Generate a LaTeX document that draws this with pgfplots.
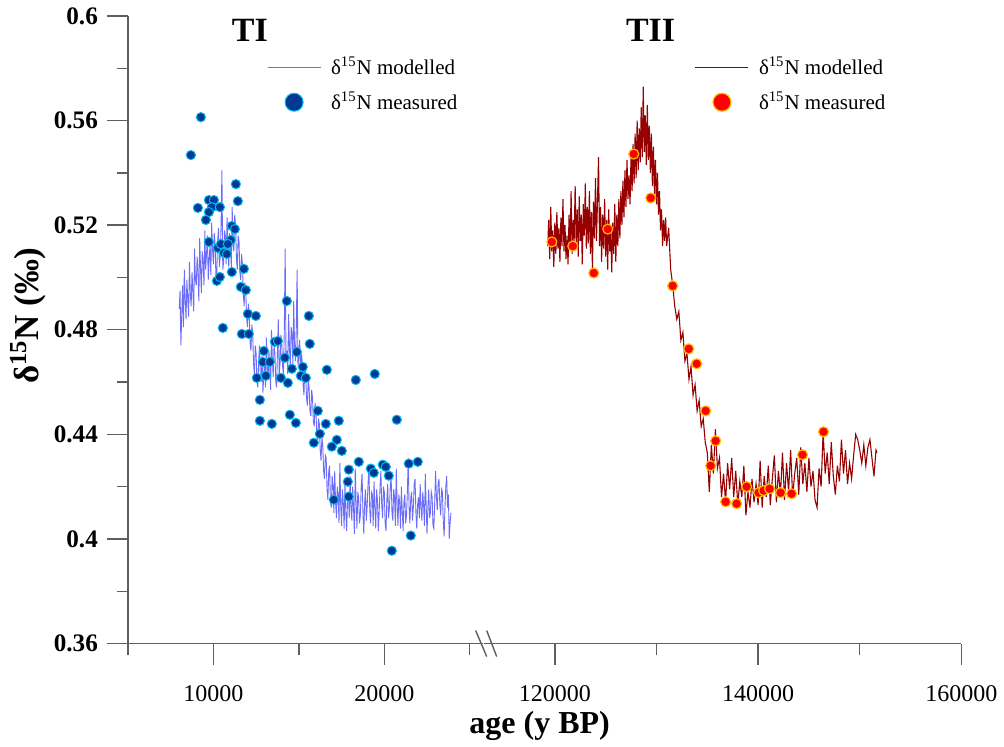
\documentclass[border=0pt]{standalone}
\usepackage{pgfplots}
\pgfplotsset{compat=1.18}
\usepackage{fontspec}
\setmainfont{Liberation Serif}
\definecolor{tiline}{RGB}{108,108,250}
\definecolor{timark}{RGB}{0,56,150}
\definecolor{timarkedge}{RGB}{0,185,235}
\definecolor{tiiline}{RGB}{150,0,0}
\definecolor{tiimark}{RGB}{255,0,0}
\definecolor{tiimarkedge}{RGB}{255,190,0}
\definecolor{axgray}{RGB}{95,95,95}

\pgfplotstableread{
age d
8000 0.488
8050 0.495
8100 0.474
8150 0.486
8200 0.497
8250 0.481
8300 0.503
8350 0.492
8400 0.484
8450 0.499
8500 0.492
8550 0.485
8600 0.506
8650 0.494
8700 0.489
8750 0.502
8800 0.495
8850 0.487
8900 0.511
8950 0.499
9000 0.497
9050 0.508
9100 0.502
9150 0.491
9200 0.515
9250 0.503
9300 0.494
9350 0.510
9400 0.506
9450 0.497
9500 0.518
9550 0.503
9600 0.509
9650 0.516
9700 0.499
9750 0.507
9800 0.512
9850 0.501
9900 0.521
9950 0.511
10000 0.505
10050 0.517
10100 0.513
10150 0.500
10200 0.502
10250 0.514
10300 0.519
10350 0.504
10400 0.508
10450 0.520
10500 0.541
10550 0.503
10600 0.506
10650 0.518
10700 0.516
10750 0.505
10800 0.523
10850 0.512
10900 0.504
10950 0.517
11000 0.512
11050 0.504
11100 0.527
11150 0.513
11200 0.510
11250 0.524
11300 0.520
11350 0.507
11400 0.503
11450 0.516
11500 0.514
11550 0.502
11600 0.499
11650 0.509
11700 0.505
11750 0.494
11800 0.489
11850 0.498
11900 0.494
11950 0.484
12000 0.481
12050 0.490
12100 0.486
12150 0.475
12200 0.472
12250 0.482
12300 0.479
12350 0.467
12400 0.463
12450 0.474
12500 0.471
12550 0.460
12600 0.458
12650 0.468
12700 0.474
12750 0.462
12800 0.460
12850 0.470
12900 0.456
12950 0.463
13000 0.469
13050 0.458
13100 0.477
13150 0.466
13200 0.461
13250 0.472
13300 0.466
13350 0.457
13400 0.480
13450 0.469
13500 0.462
13550 0.474
13600 0.471
13650 0.460
13700 0.458
13750 0.472
13800 0.484
13850 0.463
13900 0.467
13950 0.478
14000 0.475
14050 0.466
14100 0.463
14150 0.480
14200 0.511
14250 0.468
14300 0.472
14350 0.463
14400 0.486
14450 0.474
14500 0.465
14550 0.481
14600 0.479
14650 0.467
14700 0.491
14750 0.474
14800 0.468
14850 0.480
14900 0.503
14950 0.466
15000 0.470
15050 0.476
15100 0.462
15150 0.471
15200 0.468
15250 0.459
15300 0.455
15350 0.466
15400 0.463
15450 0.454
15500 0.451
15550 0.461
15600 0.458
15650 0.449
15700 0.447
15750 0.457
15800 0.454
15850 0.445
15900 0.443
15950 0.452
16000 0.449
16050 0.440
16100 0.437
16150 0.446
16200 0.444
16250 0.434
16300 0.430
16350 0.439
16400 0.436
16450 0.426
16500 0.423
16550 0.432
16600 0.431
16650 0.419
16700 0.415
16750 0.426
16800 0.428
16850 0.414
16900 0.412
16950 0.424
17000 0.421
17050 0.410
17100 0.426
17150 0.414
17200 0.408
17250 0.420
17300 0.417
17350 0.406
17400 0.429
17450 0.413
17500 0.405
17550 0.419
17600 0.414
17650 0.404
17700 0.421
17750 0.410
17800 0.403
17850 0.415
17900 0.418
17950 0.408
18000 0.424
18050 0.412
18100 0.407
18150 0.420
18200 0.412
18250 0.402
18300 0.427
18350 0.414
18400 0.404
18450 0.418
18500 0.416
18550 0.406
18600 0.409
18650 0.420
18700 0.425
18750 0.410
18800 0.402
18850 0.414
18900 0.419
18950 0.407
19000 0.413
19050 0.421
19100 0.428
19150 0.411
19200 0.406
19250 0.418
19300 0.417
19350 0.405
19400 0.422
19450 0.412
19500 0.404
19550 0.419
19600 0.415
19650 0.403
19700 0.410
19750 0.420
19800 0.426
19850 0.413
19900 0.408
19950 0.420
20000 0.418
20050 0.406
20100 0.403
20150 0.415
20200 0.421
20250 0.408
20300 0.412
20350 0.420
20400 0.424
20450 0.410
20500 0.407
20550 0.419
20600 0.416
20650 0.405
20700 0.427
20750 0.414
20800 0.405
20850 0.417
20900 0.414
20950 0.404
21000 0.420
21050 0.411
21100 0.403
21150 0.414
21200 0.417
21250 0.406
21300 0.409
21350 0.418
21400 0.431
21450 0.412
21500 0.406
21550 0.416
21600 0.418
21650 0.407
21700 0.412
21750 0.421
21800 0.423
21850 0.410
21900 0.404
21950 0.413
22000 0.416
22050 0.408
22100 0.421
22150 0.412
22200 0.407
22250 0.418
22300 0.413
22350 0.405
22400 0.425
22450 0.413
22500 0.402
22550 0.412
22600 0.419
22650 0.408
22700 0.410
22750 0.418
22800 0.416
22850 0.405
22900 0.404
22950 0.414
23000 0.426
23050 0.416
23100 0.411
23150 0.421
23200 0.423
23250 0.413
23300 0.409
23350 0.419
23400 0.418
23450 0.407
23500 0.401
23550 0.412
23600 0.420
23650 0.424
23700 0.412
23750 0.417
23800 0.400
23850 0.406
23900 0.410
}\timod

\pgfplotstableread{
age d
9269 0.5613
8684 0.5468
9094 0.5266
9737 0.5296
10029 0.5296
9912 0.5269
9737 0.5250
9561 0.5220
10380 0.5269
11316 0.5357
11433 0.5292
9737 0.5136
10263 0.5113
10439 0.5128
11082 0.5197
11257 0.5185
11023 0.5143
10848 0.5128
10614 0.5094
10790 0.5090
11082 0.5021
11784 0.5033
10205 0.4987
10380 0.5002
11608 0.4964
11901 0.4952
10556 0.4807
12018 0.4861
12485 0.4853
11667 0.4784
12076 0.4784
14298 0.4910
15585 0.4853
15643 0.4746
12953 0.4719
13597 0.4754
13772 0.4757
12895 0.4677
13304 0.4677
14181 0.4693
14883 0.4715
14591 0.4651
15234 0.4658
16638 0.4647
19445 0.4631
18333 0.4608
12544 0.4616
13070 0.4624
13947 0.4616
14357 0.4597
15117 0.4624
15409 0.4616
12719 0.4532
12719 0.4452
13421 0.4440
14474 0.4475
14825 0.4444
16111 0.4490
16579 0.4440
16228 0.4402
15877 0.4368
17339 0.4452
20731 0.4456
17222 0.4379
16930 0.4353
17515 0.4337
18509 0.4295
17924 0.4265
17866 0.4219
17924 0.4162
17047 0.4150
19211 0.4269
19386 0.4253
19912 0.4284
20088 0.4276
20263 0.4242
21433 0.4288
21959 0.4295
21550 0.4013
20439 0.3955
}\timeas

\pgfplotstableread{
age d
119300 0.512
119400 0.522
119500 0.507
119600 0.527
119700 0.510
119800 0.518
119900 0.504
120000 0.521
120100 0.509
120200 0.525
120300 0.511
120400 0.519
120500 0.506
120600 0.523
120700 0.512
120800 0.530
120900 0.510
121000 0.520
121100 0.507
121200 0.516
121300 0.505
121400 0.524
121500 0.511
121600 0.533
121700 0.509
121800 0.522
121900 0.514
122000 0.535
122100 0.512
122200 0.526
122300 0.508
122400 0.531
122500 0.514
122600 0.524
122700 0.505
122800 0.528
122900 0.516
123000 0.536
123100 0.511
123200 0.527
123300 0.513
123400 0.533
123500 0.509
123600 0.525
123700 0.503
123800 0.529
123900 0.515
124000 0.538
124100 0.514
124200 0.530
124300 0.546
124400 0.512
124500 0.527
124600 0.506
124700 0.524
124800 0.511
124900 0.530
125000 0.508
125100 0.522
125200 0.503
125300 0.526
125400 0.510
125500 0.518
125600 0.502
125700 0.521
125800 0.509
125900 0.528
126000 0.506
126100 0.524
126200 0.512
126300 0.530
126400 0.515
126500 0.533
126600 0.520
126700 0.537
126800 0.523
126900 0.541
127000 0.527
127100 0.545
127200 0.530
127300 0.539
127400 0.528
127500 0.547
127600 0.533
127700 0.551
127800 0.536
127900 0.555
128000 0.538
128100 0.560
128200 0.541
128300 0.557
128400 0.544
128500 0.565
128600 0.546
128700 0.573
128800 0.548
128900 0.562
129000 0.543
129100 0.566
129200 0.545
129300 0.558
129400 0.540
129500 0.555
129600 0.535
129700 0.550
129800 0.532
129900 0.545
130000 0.528
130100 0.540
130200 0.524
130300 0.533
130400 0.518
130500 0.526
130600 0.512
130700 0.522
130800 0.514
130900 0.523
131000 0.512
131200 0.519
131400 0.503
131600 0.497
131800 0.489
132000 0.484
132200 0.487
132400 0.476
132600 0.479
132800 0.468
133000 0.471
133200 0.461
133400 0.466
133600 0.455
133800 0.459
134000 0.449
134200 0.453
134400 0.443
134600 0.446
134800 0.437
135000 0.433
135200 0.418
135400 0.436
135600 0.425
135800 0.442
136000 0.427
136200 0.431
136400 0.416
136600 0.425
136800 0.414
137000 0.429
137200 0.419
137400 0.431
137600 0.416
137800 0.426
138000 0.413
138200 0.422
138400 0.416
138600 0.428
138800 0.409
139000 0.418
139200 0.412
139400 0.423
139600 0.414
139800 0.421
140000 0.413
140200 0.430
140400 0.412
140600 0.424
140800 0.416
141000 0.428
141200 0.413
141400 0.423
141600 0.432
141800 0.414
142000 0.426
142200 0.417
142400 0.433
142600 0.415
142800 0.429
143000 0.418
143200 0.434
143400 0.416
143600 0.425
143800 0.431
144000 0.417
144200 0.435
144400 0.421
144600 0.429
144800 0.418
145000 0.431
145200 0.420
145400 0.426
145600 0.415
145800 0.412
146000 0.427
146200 0.420
146400 0.441
146600 0.425
146800 0.433
147000 0.421
147200 0.437
147400 0.424
147600 0.417
147800 0.428
148000 0.422
148200 0.438
148400 0.425
148600 0.434
148800 0.421
149000 0.429
149200 0.423
149400 0.432
149600 0.440
149800 0.438
150000 0.434
150200 0.429
150400 0.436
150600 0.428
150800 0.435
151000 0.438
151200 0.431
151400 0.424
151600 0.434
151700 0.433
}\tiimod

\pgfplotstableread{
age d
119705 0.5136
121769 0.5120
123833 0.5017
125209 0.5185
127764 0.5472
129435 0.5304
131597 0.4968
133169 0.4727
133956 0.4670
134840 0.4490
135823 0.4375
135331 0.4280
136806 0.4142
137887 0.4135
138870 0.4200
140049 0.4177
140541 0.4185
141130 0.4192
142211 0.4177
143292 0.4173
144374 0.4322
146437 0.4410
}\tiimeas

\pgfplotsset{
  brk/.style={
    scale only axis, height=314pt,
    ymin=0.36, ymax=0.6,
    axis x line*=bottom,
    axis line style={axgray, line width=0.7pt, -},
    tick style={axgray, line width=0.7pt},
    tick align=outside,
    major tick length=10.5pt, minor tick length=5.5pt,
    clip=false, scaled x ticks=false,
    xticklabel style={font=\fontsize{12}{14}\selectfont, yshift=-7pt},
    legend style={draw=none, fill=none, inner sep=0pt, row sep=5pt,
      column sep=4pt, font=\fontsize{10.5}{12}\selectfont, anchor=north west,
      nodes={inner sep=1pt}},
    legend cell align=left,
  },
  linelegend/.style={legend image code/.code={
      \path[draw=none,fill=none] (0pt,-1pt) rectangle (26.5pt,1pt);
      \draw[##1] (0pt,0pt) -- (26.5pt,0pt);}},
  marklegend/.style={legend image code/.code={
      \path[draw=none,fill=none] (0pt,-1pt) rectangle (26.5pt,1pt);
      \draw[##1, mark size=4.5pt] plot coordinates {(13.25pt,0pt)};}},
}

\begin{document}
\begin{tikzpicture}
\path (0pt,0pt) rectangle (502pt,372pt);

\begin{axis}[brk,
  at={(64pt,50pt)}, anchor=south west,
  width=177.7pt,
  xmin=5000, xmax=25780,
  axis y line*=left,
  ytick={0.36,0.40,0.44,0.48,0.52,0.56,0.60},
  yticklabels={0.36,0.4,0.44,0.48,0.52,0.56,0.6},
  minor ytick={0.38,0.42,0.46,0.50,0.54,0.58},
  yticklabel style={font=\bfseries\fontsize{12.6}{14}\selectfont, xshift=-1pt},
  xtick={10000,20000}, xticklabels={10000,20000},
  minor xtick={5000,15000,25000},
  ylabel={\bfseries\fontsize{17.5}{20}\selectfont δ\textsuperscript{15}N (‰)},
  ylabel style={at={(axis description cs:-0.281,0.522)}, anchor=center},
  legend style={at={(axis description cs:0.391,0.938)}},
]
\addplot[color=tiline, line width=0.45pt, linelegend] table[x=age,y=d] {\timod};
\addlegendentry{δ\textsuperscript{15}N modelled}
\addplot[only marks, mark=*, mark size=2.3pt,
  mark options={fill=timark, draw=timarkedge, line width=0.5pt}, marklegend]
  table[x=age,y=d] {\timeas};
\addlegendentry{δ\textsuperscript{15}N measured}
\end{axis}

\begin{axis}[brk,
  at={(242pt,50pt)}, anchor=south west,
  width=239pt,
  xmin=113000, xmax=160000,
  axis y line=none, ytick=\empty,
  xtick={120000,140000,160000}, xticklabels={120000,140000,160000},
  minor xtick={130000,150000},
  legend style={at={(axis description cs:0.4414,0.938)}},
]
\addplot[color=tiiline, line width=0.55pt, linelegend] table[x=age,y=d] {\tiimod};
\addlegendentry{δ\textsuperscript{15}N modelled}
\addplot[only marks, mark=*, mark size=2.5pt,
  mark options={fill=tiimark, draw=tiimarkedge, line width=0.6pt}, marklegend]
  table[x=age,y=d] {\tiimeas};
\addlegendentry{δ\textsuperscript{15}N measured}
\end{axis}

\draw[axgray, line width=0.7pt] (238pt,56.5pt) -- (243.5pt,43.5pt);
\draw[axgray, line width=0.7pt] (243.5pt,56.5pt) -- (248.5pt,43.5pt);

\node[font=\bfseries\fontsize{17}{20}\selectfont] at (125pt,357pt) {TI};
\node[font=\bfseries\fontsize{17}{20}\selectfont] at (325.5pt,357pt) {TII};
\node[font=\bfseries\fontsize{16}{18}\selectfont] at (270pt,9pt) {age (y BP)};
\end{tikzpicture}
\end{document}
